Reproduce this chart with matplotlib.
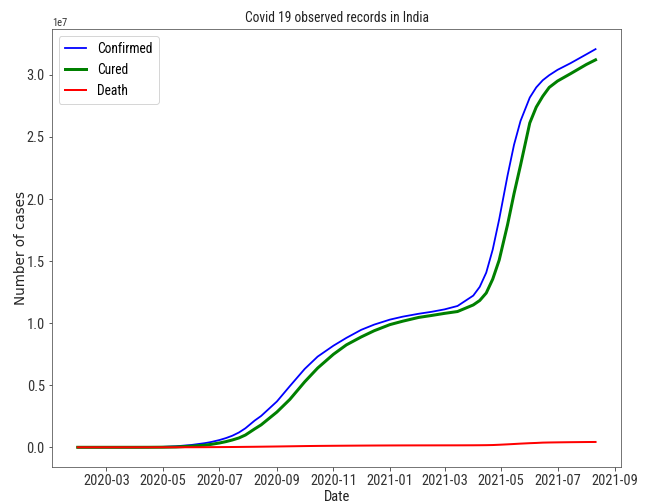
import matplotlib.pyplot as plt
import pandas as pd

# cumulative counts for India, sampled roughly twice a month (denser where curves bend)
dates = ['2020-01-30', '2020-02-15', '2020-03-01', '2020-03-15', '2020-04-01', '2020-04-15',
         '2020-05-01', '2020-05-15', '2020-06-01', '2020-06-15', '2020-06-22', '2020-07-01',
         '2020-07-08', '2020-07-15', '2020-07-22', '2020-07-29', '2020-08-08', '2020-08-15',
         '2020-09-01', '2020-09-15', '2020-10-01', '2020-10-15', '2020-11-01', '2020-11-15',
         '2020-12-01', '2020-12-15', '2021-01-01', '2021-01-15', '2021-02-01', '2021-02-15',
         '2021-03-01', '2021-03-15', '2021-04-01', '2021-04-08', '2021-04-15', '2021-04-22',
         '2021-04-29', '2021-05-08', '2021-05-15', '2021-05-22', '2021-06-01', '2021-06-08',
         '2021-06-15', '2021-06-22', '2021-07-01', '2021-07-15', '2021-08-01', '2021-08-11']
confirmed = [1, 3, 3, 107, 1998, 11933, 35043, 81970, 190535, 332424, 425282, 585493,
             742417, 936181, 1192915, 1531669, 2153010, 2526192, 3691166, 4930236,
             6312584, 7307097, 8184082, 8814579, 9462809, 9884100, 10286709, 10527683,
             10757610, 10916589, 11112056, 11385339, 12221665, 12928574, 14073220, 15930965,
             18376524, 21892676, 24372907, 26289290, 28175044, 28996473, 29570881, 29977861,
             30411634, 30946074, 31655824, 32077706]
cured = [0, 3, 3, 10, 150, 1344, 9064, 27920, 91819, 169798, 237196, 347979,
         456831, 592032, 753050, 988029, 1480884, 1808936, 2839882, 3859399,
         5273201, 6383441, 7491513, 8249579, 8889585, 9389995, 9883461, 10162738,
         10462631, 10621220, 10789772, 10938146, 11469000, 11829000, 12429564, 13548000,
         15086878, 17930960, 20432898, 22717000, 26128000, 27410000, 28280472, 28994855,
         29509000, 30099525, 30839000, 31215000]
deaths = [0, 0, 0, 2, 58, 392, 1147, 2649, 5394, 9520, 13699, 17400,
          20642, 24309, 28732, 34968, 42518, 49036, 65288, 80776,
          98678, 111266, 122111, 129635, 137621, 143355, 148738, 151918,
          154486, 155732, 157248, 158607, 162927, 166862, 172085, 182553,
          204832, 238270, 266207, 295525, 331895, 351309, 377031, 388135,
          398454, 411989, 424351, 429669]

df = pd.DataFrame({'Date': pd.to_datetime(dates), 'Confirmed': confirmed,
                   'Cured': cured, 'Deaths': deaths})

plt.rcParams['font.family'] = ['Roboto Condensed', 'DejaVu Sans']

fig = plt.figure(figsize=(9, 7), dpi=72)
ax = fig.add_axes([0.080, 0.073, 0.879, 0.869])

ax.plot(df['Date'], df['Confirmed'], color='blue', lw=1.8, label='Confirmed')
ax.plot(df['Date'], df['Cured'], color='green', lw=3, label='Cured')
ax.plot(df['Date'], df['Deaths'], color='red', lw=2, label='Death')

ax.set_title('Covid 19 observed records in India', fontsize=13.5, pad=7, color='#222222')
ax.set_xlabel('Date', fontsize=14.5, labelpad=2, color='#222222')
ax.set_ylabel('Number of cases', fontsize=13.5, family='DejaVu Sans', color='#222222')
ax.yaxis.set_label_coords(-0.042, 0.5)
ax.tick_params(labelsize=14.5, colors='#333333', length=3.5)
ax.yaxis.get_offset_text().set_fontsize(10.5)

for s in ax.spines.values():
    s.set_color('#555555')

leg = ax.legend(loc='upper left', fontsize=13.5, handlelength=1.6, borderpad=0.45,
                labelspacing=0.5, handletextpad=0.8)

fig.savefig('out.png', dpi=72)
